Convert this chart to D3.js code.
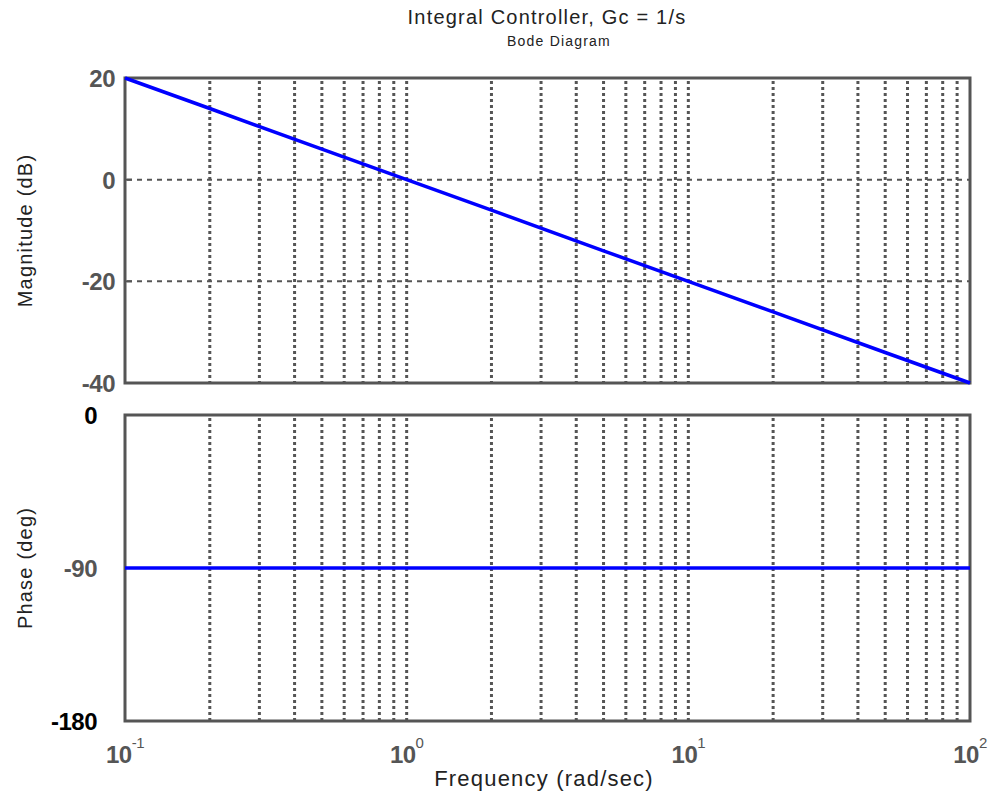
<!DOCTYPE html>
<html>
<head>
<meta charset="utf-8">
<title>Integral Controller Bode Diagram</title>
<style>
  body { margin: 0; background: #fff; font-family: Arial, "Liberation Sans", sans-serif; }
  .grid-v line { stroke: #555; stroke-width: 3; stroke-dasharray: 3,3; }
  .grid-h line { stroke: #555; stroke-width: 2; stroke-dasharray: 5,5; }
  .frame { fill: none; stroke: #555; stroke-width: 3; }
  .tick-lab { font-size: 24px; font-weight: bold; fill: #555; letter-spacing: -0.5px; }
  .curve { fill: none; stroke: #0000ff; stroke-width: 3.5; }
  .lab { fill: #222; letter-spacing: 1.2px; }
</style>
</head>
<body>
<script src="https://d3js.org/d3.v7.min.js"></script>
<script>
// frequency samples (rad/sec) and response
var freq = [0.1, 0.2, 0.5, 1, 2, 5, 10, 20, 50, 100];
var magDb = [20, 14, 6, 0, -6, -14, -20, -26, -34, -40];
var phaseDeg = [-90, -90, -90, -90, -90, -90, -90, -90, -90, -90];
var magTicks = [20, 0, -20, -40];
var phaseTicks = [0, -90, -180];
var decades = [-1, 0, 1, 2];

var W = 988, H = 792;
var left = 125, right = 970;
var magTop = 78, magBot = 383;
var phTop = 415, phBot = 721;

var svg = d3.select("body").append("svg").attr("width", W).attr("height", H);

var x = d3.scaleLog().domain([0.1, 100]).range([left, right]);
var yMag = d3.scaleLinear().domain([-40, 20]).range([magBot, magTop]);
var yPh = d3.scaleLinear().domain([-180, 0]).range([phBot, phTop]);

// grid positions 2..9 in each decade plus the inner decades
var gridX = [];
[0.1, 1, 10].forEach(function(d) {
  for (var k = 1; k <= 9; k++) { if (d * k > 0.1 && d * k < 100) gridX.push(d * k); }
});

function panel(y, top, bot, ticks, labRight, labFill) {
  var g = svg.append("g");
  g.append("g").attr("class", "grid-v").selectAll("line").data(gridX).enter().append("line")
    .attr("x1", function(d) { return x(d); }).attr("x2", function(d) { return x(d); })
    .attr("y1", top + 3).attr("y2", bot);
  g.append("g").attr("class", "grid-h").selectAll("line")
    .data(ticks.filter(function(t) { return y(t) > top + 2 && y(t) < bot - 2; }))
    .enter().append("line")
    .attr("x1", left + 2).attr("x2", right)
    .attr("y1", function(d) { return y(d); }).attr("y2", function(d) { return y(d); });
  g.selectAll(".stub").data(ticks).enter().append("line")
    .attr("x1", left).attr("x2", left + 7)
    .attr("y1", function(d) { return y(d); }).attr("y2", function(d) { return y(d); })
    .attr("stroke", "#555").attr("stroke-width", 2);
  g.append("rect").attr("class", "frame")
    .attr("x", left).attr("y", top).attr("width", right - left).attr("height", bot - top);
  g.selectAll(".tick-lab").data(ticks).enter().append("text")
    .attr("class", "tick-lab")
    .attr("x", labRight).attr("y", function(d) { return y(d) + 9; })
    .attr("text-anchor", "end")
    .style("fill", function(d, i) { return labFill[i]; })
    .text(function(d) { return d; });
}

panel(yMag, magTop, magBot, magTicks, 115, ["#555", "#555", "#555", "#555"]);
panel(yPh, phTop, phBot, phaseTicks, 97, ["#000", "#555", "#000"]);

var pts = freq.map(function(f, i) { return { f: f, m: magDb[i], p: phaseDeg[i] }; });
svg.append("path").datum(pts).attr("class", "curve")
  .attr("d", d3.line().x(function(d) { return x(d.f); }).y(function(d) { return yMag(d.m); }));
svg.append("path").datum(pts).attr("class", "curve")
  .attr("d", d3.line().x(function(d) { return x(d.f); }).y(function(d) { return yPh(d.p); }));

// x tick labels 10^n
var xl = svg.selectAll(".xlab").data(decades).enter().append("text")
  .attr("x", function(d) { return x(Math.pow(10, d)); })
  .attr("y", 763).attr("text-anchor", "middle")
  .attr("font-size", 24).attr("font-weight", "bold").attr("fill", "#555")
  .attr("letter-spacing", "-0.5px");
xl.append("tspan").text("10");
xl.append("tspan").attr("dy", -15).attr("font-size", 15).attr("font-weight", "normal")
  .text(function(d) { return d; });

// titles and labels
svg.append("text").attr("class", "lab").attr("x", 547).attr("y", 24).attr("text-anchor", "middle")
  .attr("font-size", 20).attr("letter-spacing", "1.6px").text("Integral Controller, Gc = 1/s");
svg.append("text").attr("class", "lab").attr("x", 559).attr("y", 46).attr("text-anchor", "middle")
  .attr("font-size", 14).attr("letter-spacing", "0.8px").text("Bode Diagram");
svg.append("text").attr("class", "lab").attr("x", 544).attr("y", 786).attr("text-anchor", "middle")
  .attr("font-size", 22).text("Frequency (rad/sec)");
svg.append("text").attr("class", "lab").attr("transform", "translate(32," + ((magTop + magBot) / 2) + ") rotate(-90)")
  .attr("text-anchor", "middle").attr("font-size", 20).text("Magnitude (dB)");
svg.append("text").attr("class", "lab").attr("transform", "translate(32," + ((phTop + phBot) / 2) + ") rotate(-90)")
  .attr("text-anchor", "middle").attr("font-size", 20).text("Phase (deg)");
</script>
</body>
</html>
